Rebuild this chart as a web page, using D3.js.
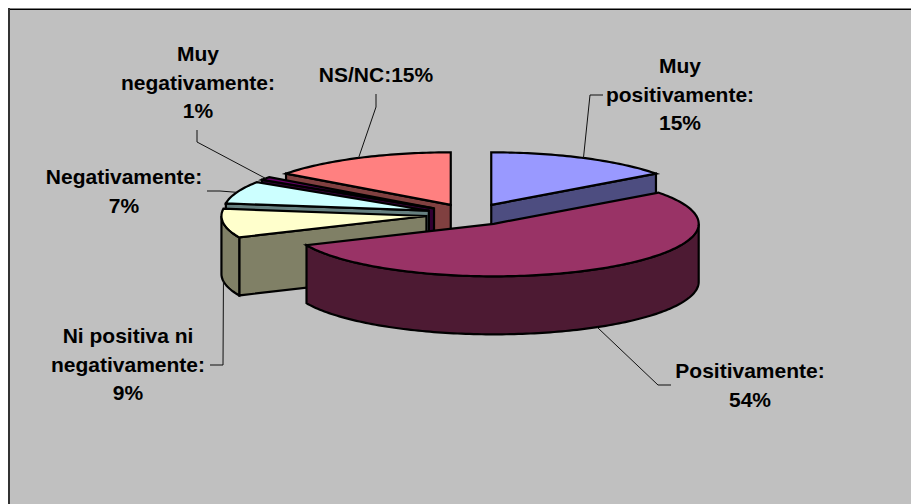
<!DOCTYPE html>
<html>
<head>
<meta charset="utf-8">
<script src="https://cdn.jsdelivr.net/npm/d3@7/dist/d3.min.js"></script>
<style>
  html, body { margin: 0; padding: 0; background: #fff; overflow: hidden; }
  svg { display: block; }
  text { font-family: "Liberation Sans", Arial, sans-serif; font-weight: bold; font-size: 21px; fill: #000; }
</style>
</head>
<body>
<script>
const W = 911, H = 504;

// data, in pie order starting at 12 o'clock
const categories = ['Muy positivamente', 'Positivamente', 'Ni positiva ni negativamente', 'Negativamente', 'Muy negativamente', 'NS/NC'];
const values = [15, 54, 9, 7, 1, 15];
const topColors = ['#9999ff', '#993366', '#ffffcc', '#ccffff', '#660066', '#ff8080'];
const wallColors = ['#4d4d80', '#4d1a33', '#808066', '#668080', '#330033', '#804040'];
const labelLines = [
  ['Muy', 'positivamente:', '15%'],
  ['Positivamente:', '54%'],
  ['Ni positiva ni', 'negativamente:', '9%'],
  ['Negativamente:', '7%'],
  ['Muy', 'negativamente:', '1%'],
  ['NS/NC:15%']
];

// layout of the tilted pie
const PIE = {CX: 471, CY: 214.5, RX: 205, RY: 52.5, DEPTH: 58, EXPLODE: 45, EXPLODE_TILT: 0.24};
const DRAW_ORDER = [5, 0, 4, 3, 2, 1];   // back to front
const LEADER_ON_WALL = [false, true, true, false, false, false];
const LABELS = [
  {x: 680, y: 73, leader: [[590, 95], [603, 95]]},
  {x: 750, y: 378, leader: [[658, 385], [671, 385]]},
  {x: 128, y: 343, leader: [[223, 365], [210, 365]]},
  {x: 124, y: 184, leader: [[220, 191], [207, 191]]},
  {x: 198, y: 61, leader: [[197, 142], [197, 130]]},
  {x: 376, y: 82, leader: [[376, 107], [376, 94]]}
];
const LINE_GAP = 28.5;

const svg = d3.select('body').append('svg')
  .attr('width', W)
  .attr('height', H);

// chart area
svg.append('rect').attr('x', 8).attr('y', 8).attr('width', W - 8).attr('height', H - 8).attr('fill', '#c0c0c0');
svg.append('line').attr('x1', 8).attr('x2', W).attr('y1', 8.5).attr('y2', 8.5).attr('stroke', '#808080');
svg.append('line').attr('x1', 8).attr('x2', W).attr('y1', 9.5).attr('y2', 9.5).attr('stroke', '#000');
svg.append('line').attr('x1', 9).attr('x2', 9).attr('y1', 8).attr('y2', H).attr('stroke', '#333').attr('stroke-width', 2);

const slices = d3.pie().sort(null)(values);

// unit sin/cos -> pixels around a slice apex
const xScale = d3.scaleLinear().domain([-1, 1]).range([-PIE.RX, PIE.RX]);
const yScale = d3.scaleLinear().domain([-1, 1]).range([PIE.RY, -PIE.RY]);

function apex(s) {
  const mid = (s.startAngle + s.endAngle) / 2;
  return [
    PIE.CX + PIE.EXPLODE * Math.sin(mid),
    PIE.CY - PIE.EXPLODE * PIE.EXPLODE_TILT * Math.cos(mid)
  ];
}
function rimPoint(s, a, dy = 0) {
  const c = apex(s);
  return [c[0] + xScale(Math.sin(a)), c[1] + yScale(Math.cos(a)) + dy];
}
function arcPoints(s, a0, a1, dy = 0) {
  const n = Math.max(2, Math.ceil((a1 - a0) / 0.02));
  return d3.range(n + 1).map(i => rimPoint(s, a0 + (a1 - a0) * i / n, dy));
}

const line = d3.line();
const closed = pts => line(pts) + 'Z';
const plot = svg.append('g');

const paint = (g, d, fill) => g.append('path')
  .attr('d', d)
  .attr('fill', fill)
  .attr('stroke', '#000')
  .attr('stroke-width', 2.2)
  .attr('stroke-linejoin', 'miter');

DRAW_ORDER.forEach(i => {
  const s = slices[i];
  const g = plot.append('g').attr('class', 'slice').attr('data-name', categories[i]);
  const c = apex(s);
  const c2 = [c[0], c[1] + PIE.DEPTH];
  const wall = wallColors[i];

  // flat radial faces, only those turned to the viewer
  [s.startAngle, s.endAngle].forEach((a, k) => {
    const facing = k === 0 ? a > Math.PI : a < Math.PI;
    if (!facing) return;
    paint(g, closed([c, rimPoint(s, a), rimPoint(s, a, PIE.DEPTH), c2]), wall);
  });

  // outer rim, the part in front of the pie
  const a0 = Math.max(s.startAngle, Math.PI / 2);
  const a1 = Math.min(s.endAngle, Math.PI * 1.5);
  if (a1 > a0) {
    paint(g, closed(arcPoints(s, a0, a1).concat(arcPoints(s, a0, a1, PIE.DEPTH).reverse())), wall);
  }

  // top
  paint(g, closed([c].concat(arcPoints(s, s.startAngle, s.endAngle))), topColors[i]);
});

// leader lines
LABELS.forEach((l, i) => {
  const s = slices[i];
  const mid = (s.startAngle + s.endAngle) / 2;
  const start = rimPoint(s, mid, LEADER_ON_WALL[i] ? PIE.DEPTH : 0);
  svg.append('path')
    .attr('class', 'leader')
    .attr('d', line([start].concat(l.leader)))
    .attr('fill', 'none')
    .attr('stroke', '#111')
    .attr('stroke-width', 1);
});

// labels
const label = svg.selectAll('.label')
  .data(LABELS)
  .enter()
  .append('text')
  .attr('class', 'label')
  .attr('text-anchor', 'middle');

label.selectAll('tspan')
  .data((d, i) => labelLines[i].map(t => ({t, x: d.x, y: d.y})))
  .enter()
  .append('tspan')
  .attr('x', d => d.x)
  .attr('y', (d, i) => d.y + i * LINE_GAP)
  .text(d => d.t);
</script>
</body>
</html>
